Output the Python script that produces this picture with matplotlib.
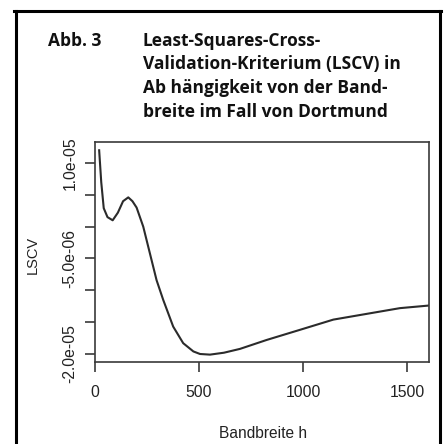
import matplotlib
matplotlib.use("Agg")
import matplotlib.pyplot as plt
import matplotlib.transforms as mtransforms

# LSCV curve
h = [20, 30, 42, 60, 85, 110, 135, 160, 180, 200, 232, 264, 296, 328, 376,
     424, 473, 505, 553, 620, 697, 825, 986, 1146, 1306, 1466, 1602]
lscv = [1.20e-05, 0.70e-05, 0.29e-05, 0.15e-05, 0.10e-05, 0.22e-05, 0.40e-05,
        0.46e-05, 0.40e-05, 0.30e-05, 0.00e-05, -0.42e-05, -0.84e-05, -1.15e-05,
        -1.57e-05, -1.83e-05, -1.96e-05, -2.00e-05, -2.01e-05, -1.98e-05,
        -1.92e-05, -1.78e-05, -1.62e-05, -1.46e-05, -1.37e-05, -1.28e-05, -1.24e-05]

yticks = [1e-05, 5e-06, 0, -5e-06, -1e-05, -1.5e-05, -2e-05]
ylabeled = [1e-05, -5e-06, -2e-05]
ylabel_text = ['1.0e-05', '-5.0e-06', '-2.0e-05']
xticks = [0, 500, 1000, 1500]

title_lines = ['Least-Squares-Cross-',
               'Validation-Kriterium (LSCV) in',
               'Ab hängigkeit von der Band-',
               'breite im Fall von Dortmund']

W, H = 447, 444
fig = plt.figure(figsize=(W / 100, H / 100), dpi=100)

# outer frame of the figure box (open at the bottom)
fig.add_artist(plt.Line2D([15.5 / W, 15.5 / W], [0, 1 - 11.5 / H],
                          transform=fig.transFigure, color='black', linewidth=2.2))
fig.add_artist(plt.Line2D([439.5 / W, 439.5 / W], [0, 1 - 11.5 / H],
                          transform=fig.transFigure, color='black', linewidth=2.2))
fig.add_artist(plt.Line2D([14.5 / W, 440.5 / W], [1 - 11.5 / H, 1 - 11.5 / H],
                          transform=fig.transFigure, color='black', linewidth=2.2))

# title
fig.text(48 / W, 1 - 41 / H, 'Abb. 3', fontsize=12.5, fontweight='bold',
         family='Open Sans', va='center', ha='left', color='#111111')
for i, line in enumerate(title_lines):
    fig.text(143 / W, 1 - (41 + i * 23.5) / H, line, fontsize=12.5,
             fontweight='bold', family='Open Sans', va='center', ha='left',
             color='#111111')

ax = fig.add_axes([95 / W, 1 - 361.5 / H, (429 - 95) / W, (361.5 - 142.3) / H])
ax.plot(h, lscv, color='#2b2b2b', linewidth=1.5)
ax.set_xlim(0, 1606)
ax.set_ylim(-2.118e-05, 1.325e-05)

ax.set_yticks(yticks)
ax.set_yticklabels([])
# R style rotated labels, only some of them shown
trans = mtransforms.blended_transform_factory(fig.transFigure, ax.transData)
for v, t in zip(ylabeled, ylabel_text):
    ax.text(70 / W, v, t, transform=trans, rotation=90, ha='center',
            va='center', family='Liberation Sans', fontsize=11.3,
            color='#222222', clip_on=False)

ax.set_xticks(xticks)
ax.set_xticklabels([str(x) for x in xticks], family='Liberation Sans',
                   fontsize=11.3, color='#222222')
ax.tick_params(length=7, width=1.2, color='#3a3a3a')
ax.tick_params(axis='x', pad=10)
for s in ax.spines.values():
    s.set_color('#3a3a3a')
    s.set_linewidth(1.2)

fig.text(263 / W, 1 - 433 / H, 'Bandbreite h', family='Liberation Sans',
         fontsize=11.2, color='#222222', ha='center', va='center')
fig.text(33 / W, 1 - 255 / H, 'LSCV', family='Liberation Sans', rotation=90,
         fontsize=10.5, color='#222222', ha='center', va='center')

fig.savefig('out.png', dpi=100)
